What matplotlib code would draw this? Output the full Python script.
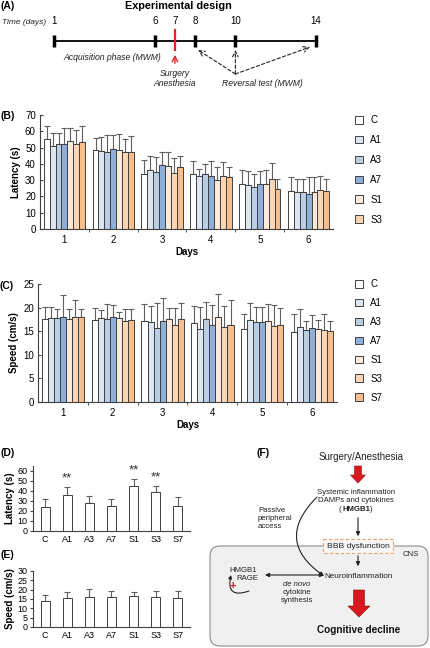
import matplotlib
matplotlib.use("Agg")
import matplotlib.pyplot as plt
import matplotlib.patches as mpatches
import numpy as np

plt.rcParams['font.family'] = ['Liberation Sans', 'DejaVu Sans']

# ---------------------------------------------------------------- data
groups = ['C', 'A1', 'A3', 'A7', 'S1', 'S3', 'S7']
colores = ['#ffffff', '#dce6f2', '#b9cde5', '#8eb0d8', '#fde9d9', '#fcd5b4', '#f9be8e']
days = [1, 2, 3, 4, 5, 6]

# latency (s) per day, one row per day, columns = groups
lat_mean = [[55, 51, 52.5, 52.5, 54, 52, 53.5],
            [48.5, 48, 47.5, 49, 48.5, 47.5, 47.5],
            [34, 36.5, 35, 39, 38.5, 34.5, 38],
            [33.5, 32.5, 33.5, 32.5, 30, 32.5, 32],
            [27.5, 27, 25.5, 27.5, 27.5, 30.5, 24.5],
            [23.5, 22.5, 22.5, 21.5, 23, 24, 23.5]]
lat_top = [[63, 59, 59, 62, 62, 61, 63],
           [56, 56.5, 57.5, 58, 58.5, 55.5, 57],
           [42.5, 45, 44, 47.5, 47, 43.5, 45],
           [41.5, 37, 40, 41.5, 38, 41, 38],
           [36.5, 35.5, 33.5, 35.5, 36, 40.5, 31],
           [32, 30.5, 31, 32, 32, 32.5, 31]]

# speed (cm/s) per day
spd_mean = [[17.5, 17.8, 17.8, 18, 17.6, 18, 18],
            [17.4, 17.7, 17.6, 18, 17.8, 17.2, 17.3],
            [17.2, 16.9, 15.6, 17.2, 17.6, 16.4, 17.5],
            [16.7, 15.5, 17.6, 16.4, 18.1, 15.8, 16.4],
            [15.5, 17.4, 16.9, 16.9, 17.1, 16.0, 16.3],
            [14.9, 15.8, 15.2, 15.7, 15.4, 15.2, 15.0]]
spd_top = [[20.2, 20.1, 19.8, 22.6, 19.8, 21.7, 19.7],
           [20.0, 19.4, 20.8, 20.5, 19.0, 19.6, 19.8],
           [20.7, 20.3, 20.9, 22.1, 20.0, 20.0, 21.0],
           [20.4, 20.1, 21.1, 20.5, 22.8, 20.3, 21.7],
           [18.7, 20.9, 20.1, 20.1, 20.7, 20.5, 19.9],
           [18.6, 19.7, 17.2, 18.5, 17.3, 18.6, 17.2]]

# reversal test
rev_lat = [24, 36, 28, 25, 45, 39, 25]
rev_lat_top = [32, 44, 35, 32, 52, 45, 34]
rev_sig = ['', '**', '', '', '**', '**', '']
rev_spd = [14, 15.5, 16, 16, 16.5, 16, 15.5]
rev_spd_top = [17, 18.5, 20.5, 19.5, 19, 19.5, 19.5]

# timeline
time_days = [1, 6, 7, 8, 10, 14]
tick_days = [1, 6, 8, 10, 14]
surgery_day = 7
reversal_days = [8, 10, 14]

W, H = 431, 648
fig = plt.figure(figsize=(W / 100, H / 100), dpi=100)

# overlay in pixel coords for panels A and F
ov = fig.add_axes([0, 0, 1, 1])
ov.set_xlim(0, W)
ov.set_ylim(H, 0)
ov.axis('off')
ov.patch.set_visible(False)


def px(l, t, r, b):
    return [l / W, 1 - b / H, (r - l) / W, (b - t) / H]


edge = '#404040'
ecol = '#606060'
txt = '#222222'


def grouped(ax, mean, top, ymax, ystep):
    mean = np.array(mean)
    top = np.array(top)
    bw = 0.121
    for j in range(len(groups)):
        xs = np.array(days) + (j - 3) * bw
        ax.bar(xs, mean[:, j], bw, color=colores[j], edgecolor=edge, linewidth=0.7,
               label=groups[j], zorder=2)
        ax.errorbar(xs, mean[:, j], yerr=[np.zeros(len(days)), top[:, j] - mean[:, j]],
                    fmt='none', ecolor=ecol, elinewidth=0.8, capsize=2.2, capthick=0.8, zorder=1)
    ax.set_xlim(0.5, 6.5)
    ax.set_ylim(0, ymax)
    ax.set_yticks(np.arange(0, ymax + 1, ystep))
    ax.set_xticks(days)
    ax.set_xticks(np.arange(1.5, 6.5, 1), minor=True)
    ax.tick_params(axis='x', which='major', length=0, labelsize=7, pad=4)
    ax.tick_params(axis='x', which='minor', length=2.5, direction='out', color=edge)
    ax.tick_params(axis='y', length=2.5, direction='in', labelsize=7, pad=3, color=edge)
    for s in ['top', 'right']:
        ax.spines[s].set_visible(False)
    for s in ['left', 'bottom']:
        ax.spines[s].set_color(edge)
        ax.spines[s].set_linewidth(0.8)
    ax.set_xlabel('Days', fontsize=7, fontweight='bold', labelpad=2)


# ---------------------------------------------------------------- B
axB = fig.add_axes(px(40, 115, 333, 229))
grouped(axB, lat_mean, lat_top, 70, 10)
axB.set_ylabel('Latency (s)', fontsize=7, fontweight='bold', labelpad=3)
hB, lB = axB.get_legend_handles_labels()
fig.legend(hB[:6], lB[:6], loc='upper left', bbox_to_anchor=(355 / W, 1 - 115 / H),
           frameon=False, fontsize=7, handlelength=0.85, handleheight=0.85,
           handletextpad=0.7, labelspacing=1.02, borderpad=0, borderaxespad=0)

# ---------------------------------------------------------------- C
axC = fig.add_axes(px(38, 284, 337, 402))
grouped(axC, spd_mean, spd_top, 25, 5)
axC.set_ylabel('Speed (cm/s)', fontsize=7, fontweight='bold', labelpad=3)
hC, lC = axC.get_legend_handles_labels()
fig.legend(hC, lC, loc='upper left', bbox_to_anchor=(355 / W, 1 - 279 / H),
           frameon=False, fontsize=7, handlelength=0.85, handleheight=0.85,
           handletextpad=0.7, labelspacing=0.92, borderpad=0, borderaxespad=0)


# ---------------------------------------------------------------- D, E
def single(ax, mean, top, ymax, ystep):
    x = np.arange(len(groups))
    ax.bar(x, mean, 0.42, color='white', edgecolor=edge, linewidth=0.7, zorder=2)
    ax.errorbar(x, mean, yerr=[np.zeros(len(x)), np.array(top) - np.array(mean)],
                fmt='none', ecolor=ecol, elinewidth=0.8, capsize=2.2, capthick=0.8, zorder=1)
    ax.set_xlim(-0.55, 6.55)
    ax.set_ylim(0, ymax)
    ax.set_yticks(np.arange(0, ymax + 1, ystep))
    ax.set_xticks(x, groups)
    ax.tick_params(axis='x', length=0, labelsize=6.5, pad=3)
    ax.tick_params(axis='y', length=2.5, direction='out', labelsize=6.5, pad=1.5, color=edge)
    for s in ['top', 'right']:
        ax.spines[s].set_visible(False)
    for s in ['left', 'bottom']:
        ax.spines[s].set_color(edge)
        ax.spines[s].set_linewidth(0.8)


axD = fig.add_axes(px(33, 466, 190, 531))
single(axD, rev_lat, rev_lat_top, 65, 10)
axD.set_ylabel('Latency (s)', fontsize=7, fontweight='bold', labelpad=2)
for i, s in enumerate(rev_sig):
    if s:
        axD.text(i, rev_lat_top[i] + 3, s, ha='center', va='bottom', fontsize=9.5, color='#333333')

axE = fig.add_axes(px(33, 571, 190, 627))
single(axE, rev_spd, rev_spd_top, 30, 5)
axE.set_ylabel('Speed (cm/s)', fontsize=7, fontweight='bold', labelpad=2)

# ---------------------------------------------------------------- panel labels
for lab, x, y in [('(A)', 1, 6), ('(B)', 1, 116), ('(C)', 0, 286), ('(D)', 1, 453),
                  ('(E)', 1, 555), ('(F)', 257, 453)]:
    ov.text(x, y, lab, fontsize=7.5, fontweight='bold', va='center', ha='left')

# ---------------------------------------------------------------- A timeline


def day_x(d):
    return 54 + (d - 1) * (316 - 54) / 13


ov.text(178, 6, 'Experimental design', fontsize=7.8, fontweight='bold', ha='center', va='center')
ov.text(2, 22, 'Time (days)', fontsize=6, style='italic', ha='left', va='center', color=txt)
for d in time_days:
    ov.text(day_x(d), 21, str(d), fontsize=7, ha='center', va='center')
ov.plot([day_x(1), day_x(14)], [41, 41], color='black', lw=1.3)
for d in tick_days:
    ov.plot([day_x(d), day_x(d)], [35, 47], color='black', lw=2.5, solid_capstyle='butt')
ov.plot([day_x(surgery_day)] * 2, [30, 50], color='#e8202a', lw=1.6)
ov.annotate('', xy=(day_x(surgery_day), 52), xytext=(day_x(surgery_day), 66),
            arrowprops=dict(arrowstyle='->', color='#e8202a', lw=1.0))
ov.text(112, 57, 'Acquisition phase (MWM)', fontsize=6.2, style='italic', ha='center', va='center',
        color=txt)
ov.text(day_x(surgery_day), 73, 'Surgery', fontsize=6.2, style='italic', ha='center', va='center',
        color=txt)
ov.text(day_x(surgery_day), 83, 'Anesthesia', fontsize=6.2, style='italic', ha='center', va='center',
        color=txt)
ov.text(262, 83, 'Reversal test (MWM)', fontsize=6.2, style='italic', ha='center', va='center',
        color=txt)
src = (day_x(10), 74)
for d, dx, y in zip(reversal_days, [3, 0, -6], [50, 50, 47]):
    ov.annotate('', xy=(day_x(d) + dx, y), xytext=src,
                arrowprops=dict(arrowstyle='->', color=txt, lw=0.8, linestyle=(0, (3, 2)),
                                shrinkA=0, shrinkB=0))

# ---------------------------------------------------------------- F diagram
red = '#d7191f'
fs = 5.6
cns = mpatches.FancyBboxPatch((210, 546), 218, 100, boxstyle='round,pad=0,rounding_size=10',
                              facecolor='#f0f0f0', edgecolor='#8c8c8c', lw=0.8, zorder=1)
ov.add_patch(cns)
ov.text(361, 457, 'Surgery/Anesthesia', fontsize=7, ha='center', va='center', color=txt)
ov.add_patch(mpatches.FancyArrow(358, 466, 0, 17, width=7, head_width=15, head_length=8,
                                 length_includes_head=True, color=red, ec='#8a0a0a', lw=0.4))
ov.text(356, 492, 'Systemic inflammation', fontsize=fs, ha='center', va='center', color=txt)
ov.text(356, 501, 'DAMPs and cytokines', fontsize=fs, ha='center', va='center', color=txt)
hm = ov.text(356, 509.5, 'HMGB1', fontsize=fs, fontweight='bold', ha='center', va='center', color=txt)
ov.annotate('(', xy=(0, 0.5), xycoords=hm, xytext=(-0.4, 0), textcoords='offset points',
            fontsize=fs, ha='right', va='center', color=txt)
ov.annotate(')', xy=(1, 0.5), xycoords=hm, xytext=(0.4, 0), textcoords='offset points',
            fontsize=fs, ha='left', va='center', color=txt)
ov.annotate('', xy=(358, 539), xytext=(358, 515),
            arrowprops=dict(arrowstyle='-|>', color=txt, lw=0.8, mutation_scale=6))
bbb = mpatches.Rectangle((323, 539), 70, 14, facecolor='#f7f7f7', edgecolor='#f0a060', lw=0.8,
                         linestyle=(0, (3, 2)), zorder=2)
ov.add_patch(bbb)
ov.text(358, 546, 'BBB dysfunction', fontsize=6.1, ha='center', va='center', color=txt, zorder=3)
ov.text(411, 555, 'CNS', fontsize=fs, ha='center', va='center', color=txt, zorder=3)
ov.annotate('', xy=(358, 569), xytext=(358, 553),
            arrowprops=dict(arrowstyle='-|>', color=txt, lw=0.8, mutation_scale=6), zorder=3)
ov.text(359, 577, 'Neuroinflammation', fontsize=5.9, ha='center', va='center', color=txt, zorder=3)
for i, t in enumerate(['Passive', 'peripheral', 'access']):
    ov.text(258, 510 + 8 * i, t, fontsize=fs, ha='left', va='center', color=txt, zorder=3)
ov.annotate('', xy=(324, 576), xytext=(317, 497),
            arrowprops=dict(arrowstyle='-|>', color=txt, lw=0.8, mutation_scale=6,
                            connectionstyle='arc3,rad=0.6', shrinkA=0, shrinkB=0), zorder=3)
ov.text(229, 570, 'HMGB1', fontsize=fs, ha='left', va='center', color=txt, zorder=3)
ov.text(236, 578.5, 'RAGE', fontsize=fs, ha='left', va='center', color=txt, zorder=3)
ov.annotate('', xy=(231, 575), xytext=(249, 591),
            arrowprops=dict(arrowstyle='-|>', color=txt, lw=0.8, mutation_scale=5,
                            connectionstyle='arc3,rad=-0.9', shrinkA=0, shrinkB=0), zorder=3)
ov.text(233, 586, '+', fontsize=8, fontweight='bold', ha='center', va='center', color=red, zorder=3)
ov.annotate('', xy=(265, 575), xytext=(324, 575),
            arrowprops=dict(arrowstyle='<|-|>', color=txt, lw=0.8, mutation_scale=6,
                            shrinkA=0, shrinkB=0), zorder=3)
ov.text(297, 584, 'de novo', fontsize=fs, style='italic', ha='center', va='center', color=txt, zorder=3)
ov.text(297, 592.5, 'cytokine', fontsize=fs, ha='center', va='center', color=txt, zorder=3)
ov.text(297, 601, 'synthesis', fontsize=fs, ha='center', va='center', color=txt, zorder=3)
ov.add_patch(mpatches.FancyArrow(359, 590, 0, 27, width=11, head_width=22, head_length=11,
                                 length_includes_head=True, color=red, ec='#8a0a0a', lw=0.4, zorder=3))
ov.text(359, 630, 'Cognitive decline', fontsize=7.2, fontweight='bold', ha='center', va='center',
        color='#111111', zorder=3)

fig.savefig('out.png', dpi=100)
